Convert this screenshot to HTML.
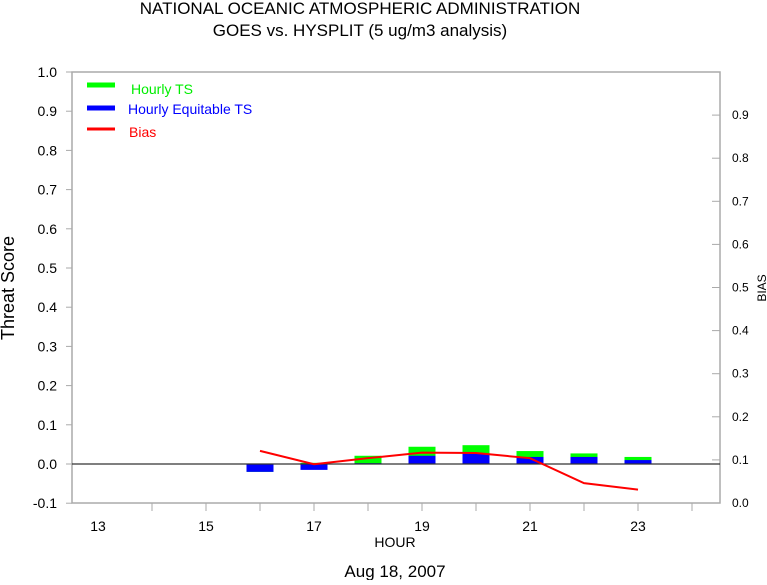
<!DOCTYPE html>
<html><head><meta charset="utf-8"><style>
body{margin:0;background:#fff;}
svg text{font-family:"Liberation Sans",sans-serif;}
</style></head><body>
<svg id="c" width="767" height="580" xmlns="http://www.w3.org/2000/svg">
<text x="360" y="14" font-size="17" text-anchor="middle">NATIONAL OCEANIC ATMOSPHERIC ADMINISTRATION</text>
<text x="360" y="36" font-size="17" text-anchor="middle">GOES vs. HYSPLIT  (5 ug/m3 analysis)</text>
<text x="395" y="577" font-size="17" text-anchor="middle">Aug 18, 2007</text>
<text x="395" y="547" font-size="14" text-anchor="middle">HOUR</text>
<text transform="translate(14,288) rotate(-90)" font-size="18" text-anchor="middle">Threat Score</text>
<text transform="translate(766,288) rotate(-90)" font-size="12" text-anchor="middle">BIAS</text>
<g id="plot"></g>
<g>
<line x1="87" y1="85" x2="115" y2="85" stroke="#00ff00" stroke-width="5"/>
<text x="131" y="94" font-size="14" fill="#00ee00">Hourly TS</text>
<line x1="87" y1="108" x2="115" y2="108" stroke="#0000ff" stroke-width="5"/>
<text x="128" y="114" font-size="14" fill="#0000ff">Hourly Equitable TS</text>
<line x1="87" y1="129" x2="115" y2="129" stroke="#ff0000" stroke-width="3"/>
<text x="129" y="137" font-size="14" fill="#ff0000">Bias</text>
</g>
</svg>
<script>
const hours=[16,17,18,19,20,21,22,23];
const tsValues=[-0.02,0.003,0.021,0.044,0.048,0.033,0.027,0.018];
const etsValues=[-0.02,-0.015,0.002,0.021,0.026,0.018,0.018,0.010];
const biasValues=[0.121,0.090,0.104,0.117,0.116,0.104,0.046,0.031];
const leftTicks=[-0.1,0,0.1,0.2,0.3,0.4,0.5,0.6,0.7,0.8,0.9,1.0];
const rightTicks=[0,0.1,0.2,0.3,0.4,0.5,0.6,0.7,0.8,0.9];
const xLabels=[13,15,17,19,21,23];
const xTickHours=[14,15,16,17,18,19,20,21,22,23,24];
const L=72,R=720,T=72,B=503;
const x=h=>98+(h-13)*54;
const yL=v=>464-v*392;
const yR=v=>503-v*431;
const NS='http://www.w3.org/2000/svg';
const g=document.getElementById('plot');
function mk(t,a){const e=document.createElementNS(NS,t);for(const k in a)e.setAttribute(k,a[k]);g.appendChild(e);return e;}
let e=mk('rect',{x:L,y:T,width:R-L,height:B-T,fill:'none',stroke:'#aaa','stroke-width':1.5});


leftTicks.forEach(v=>{
 let t=mk('line',{x1:L-6,x2:L,y1:yL(v),y2:yL(v),stroke:'#aaa'});
 
 
 let s=mk('text',{x:57,y:yL(v)+5,'font-size':14,'text-anchor':'end'});s.textContent=v.toFixed(1);
 
 
});
rightTicks.forEach(v=>{
 let t=mk('line',{x1:R-8,x2:R,y1:yR(v),y2:yR(v),stroke:'#aaa'});
 
 
 let s=mk('text',{x:732,y:yR(v)+4,'font-size':12});s.textContent=v.toFixed(1);
 
 
});
xTickHours.forEach(h=>{
 let t=mk('line',{x1:x(h),x2:x(h),y1:B,y2:B+8,stroke:'#aaa'});
 
 
});
xLabels.forEach(h=>{
 let s=mk('text',{x:x(h),y:531,'font-size':14,'text-anchor':'middle'});s.textContent=h;
 
 
});
hours.forEach((h,i)=>{
 const v=tsValues[i],y0=yL(0),y1=yL(v);
 let r=mk('rect',{x:x(h)-13.5,y:Math.min(y0,y1),width:27,height:Math.abs(y1-y0),fill:'#00ff00'});
 
 
});
hours.forEach((h,i)=>{
 const v=etsValues[i],y0=yL(0),y1=yL(v);
 let r=mk('rect',{x:x(h)-13.5,y:Math.min(y0,y1),width:27,height:Math.abs(y1-y0),fill:'#0000ff'});
 
 
});
e=mk('line',{x1:L,x2:R,y1:yL(0),y2:yL(0),stroke:'#333','stroke-width':1.3});


e=mk('polyline',{points:hours.map((h,i)=>x(h)+','+yR(biasValues[i])).join(' '),fill:'none',stroke:'#ff0000','stroke-width':2});


</script>
</body></html>
